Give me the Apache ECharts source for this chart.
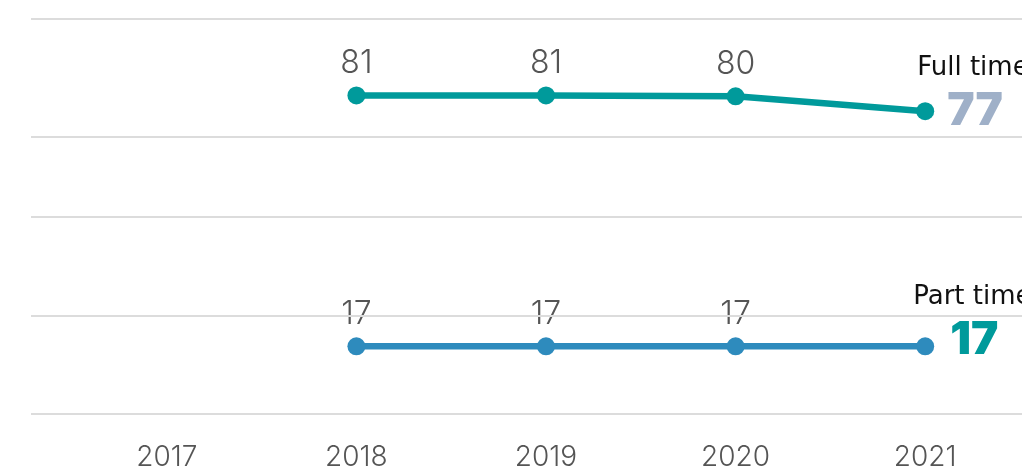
<!DOCTYPE html>
<html>
<head>
<meta charset="utf-8">
<script src="https://cdn.jsdelivr.net/npm/echarts@6/dist/echarts.min.js"></script>
<style>
  html, body { margin: 0; padding: 0; background: #fff; }
  #chart { width: 1022px; height: 472px; }
</style>
</head>
<body>
<div id="chart"></div>
<script>
// data
const years = ['2017', '2018', '2019', '2020', '2021'];
const fullTime = [null, 81, 81, 80.8, 77];
const fullLabels = ['', '81', '81', '80', '77'];
const partTime = [null, 17, 17, 17, 17];
const partLabels = ['', '17', '17', '17', '17'];
const guideValues = [0, 25, 50, 70.1, 100];

const NUM_FONT = 'Inter, "Noto Sans", sans-serif';
const WORD_FONT = '"DejaVu Sans", sans-serif';
const last = years.length - 1;

function buildData(values, labels, name, valColor, offset, pad) {
    return values.map((v, i) => {
        if (i !== last) return { value: v, label: { formatter: labels[i] } };
        return {
            value: v,
            label: {
                position: 'right',
                align: 'left',
                offset: offset,
                formatter: '{name|' + name + '}\n{val|' + labels[i] + '}',
                rich: {
                    name: { fontFamily: WORD_FONT, fontSize: 26, fontWeight: 'normal', color: '#111', lineHeight: 30 },
                    val: { fontFamily: NUM_FONT, fontSize: 46, fontWeight: 900, color: valColor, lineHeight: 56, padding: [0, 0, 0, pad] }
                }
            }
        };
    });
}

const pointLabel = {
    show: true,
    position: 'top',
    distance: 7,
    fontFamily: NUM_FONT,
    fontSize: 32,
    fontWeight: 300,
    color: '#555'
};

const chart = echarts.init(document.getElementById('chart'));
const option = {
    animation: false,
    grid: [
        { left: 72, right: 2, top: 21, bottom: 56.7 },
        { left: 31, right: 0, top: 19, bottom: 58 }
    ],
    xAxis: [
        {
            type: 'category',
            data: years,
            gridIndex: 0,
            axisLine: { show: false },
            axisTick: { show: false },
            axisLabel: { margin: 31, fontFamily: NUM_FONT, fontSize: 28, fontWeight: 300, color: '#555' }
        },
        { type: 'value', gridIndex: 1, show: false, min: 0, max: 1 }
    ],
    yAxis: [
        { type: 'value', gridIndex: 0, min: 0, max: 100, show: false },
        { type: 'value', gridIndex: 1, min: 0, max: 100, show: false }
    ],
    series: [
        {
            type: 'line',
            xAxisIndex: 1,
            yAxisIndex: 1,
            data: [],
            silent: true,
            markLine: {
                silent: true,
                symbol: 'none',
                label: { show: false },
                lineStyle: { color: '#dcdcdc', width: 2, type: 'solid' },
                data: guideValues.map(v => ({ yAxis: v }))
            }
        },
        {
            name: 'Full time',
            type: 'line',
            data: buildData(fullTime, fullLabels, 'Full time', '#9fb0c8', [-24, -15], 30),
            symbol: 'circle',
            symbolSize: 18,
            lineStyle: { width: 6.5, color: '#009a9b' },
            itemStyle: { color: '#009a9b' },
            label: pointLabel,
            z: 3
        },
        {
            name: 'Part time',
            type: 'line',
            data: buildData(partTime, partLabels, 'Part time', '#009a9b', [-28, -21], 37),
            symbol: 'circle',
            symbolSize: 18,
            lineStyle: { width: 6.5, color: '#2e8bbd' },
            itemStyle: { color: '#2e8bbd' },
            label: pointLabel,
            z: 3
        }
    ]
};
chart.setOption(option);
</script>
</body>
</html>
